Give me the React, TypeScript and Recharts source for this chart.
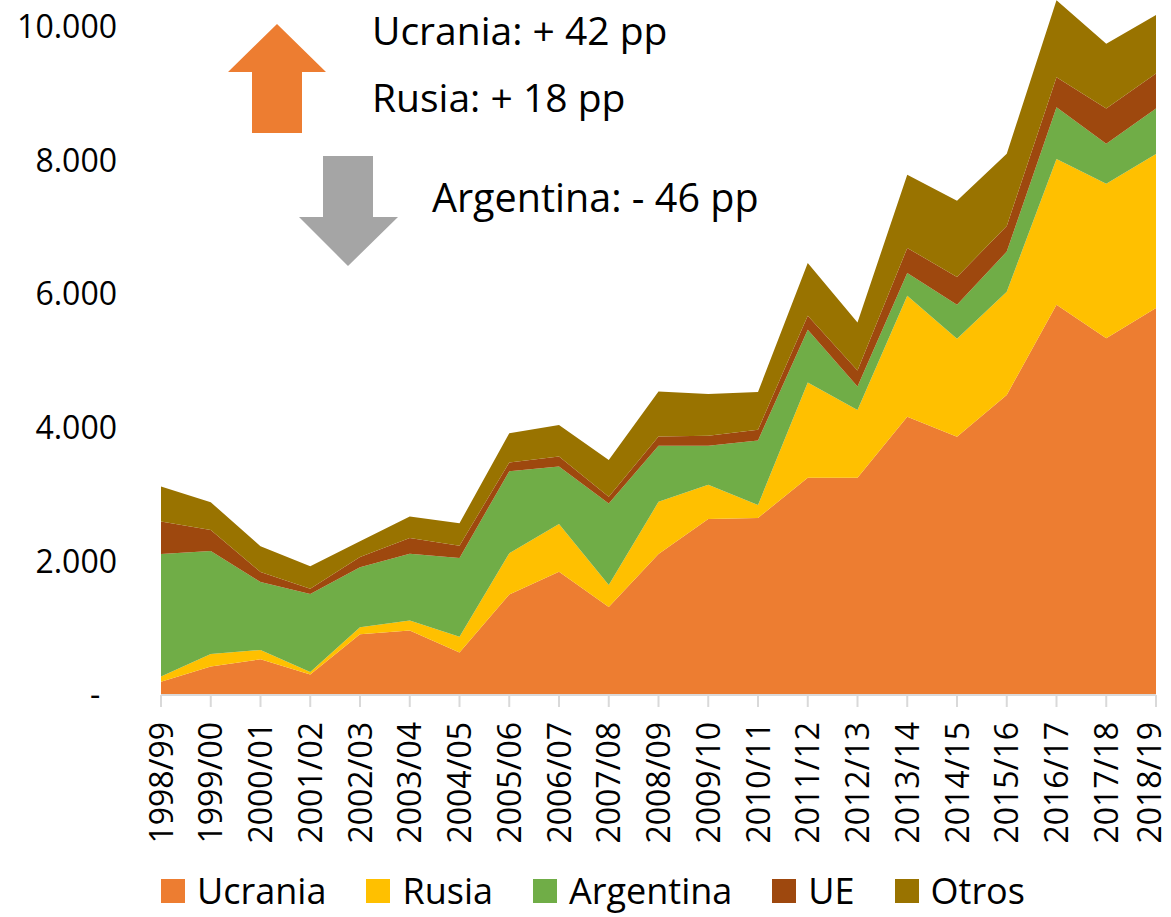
import React from "react";
import { AreaChart, Area, XAxis, YAxis, Legend } from "recharts";

const years = [
  "1998/99", "1999/00", "2000/01", "2001/02", "2002/03", "2003/04", "2004/05",
  "2005/06", "2006/07", "2007/08", "2008/09", "2009/10", "2010/11", "2011/12",
  "2012/13", "2013/14", "2014/15", "2015/16", "2016/17", "2017/18", "2018/19",
];
const ucrania = [200, 425, 535, 305, 910, 965, 635, 1505, 1845, 1315, 2110, 2635, 2650, 3250, 3250, 4165, 3865, 4490, 5840, 5340, 5790];
const rusia = [75, 190, 140, 40, 105, 150, 235, 615, 715, 330, 780, 510, 195, 1425, 1015, 1810, 1465, 1545, 2180, 2310, 2305];
const argentina = [1835, 1540, 1015, 1165, 895, 1000, 1180, 1230, 860, 1220, 840, 585, 965, 790, 350, 340, 510, 600, 775, 600, 680];
const ue = [485, 315, 150, 80, 155, 235, 185, 130, 150, 100, 140, 150, 160, 210, 240, 375, 415, 385, 450, 525, 525];
const otros = [525, 415, 385, 335, 235, 320, 335, 435, 470, 550, 670, 625, 565, 790, 720, 1095, 1140, 1080, 1150, 970, 875];

const yTicks = [0, 2000, 4000, 6000, 8000, 10000];

const series = [
  { key: "Ucrania", color: "#ED7D31" },
  { key: "Rusia", color: "#FFC000" },
  { key: "Argentina", color: "#70AD47" },
  { key: "UE", color: "#9E480E" },
  { key: "Otros", color: "#997300" },
];

const data = years.map((year, i) => ({
  year,
  Ucrania: ucrania[i],
  Rusia: rusia[i],
  Argentina: argentina[i],
  UE: ue[i],
  Otros: otros[i],
}));

const FONT = "'Open Sans', sans-serif";

const fmtY = (v: number) =>
  v === 0 ? "-\u00a0\u00a0" : v.toLocaleString("de-DE");

const XTick = (props: any) => {
  const { x, y, payload, index } = props;
  const isLast = index === years.length - 1;
  return (
    <g transform={`translate(${x},${y})`}>
      <text
        transform="rotate(-90)"
        textAnchor="end"
        dy={isLast ? "0.15em" : "0.36em"}
        fontSize={32}
        fill="#000"
        fontFamily={FONT}
      >
        {payload.value}
      </text>
    </g>
  );
};

const renderLegend = () => (
  <div
    style={{
      display: "flex",
      justifyContent: "center",
      alignItems: "center",
      height: 40,
      paddingLeft: 30,
      boxSizing: "border-box",
      fontFamily: FONT,
      fontSize: 36,
      color: "#000",
    }}
  >
    {series.map((s) => (
      <div key={s.key} style={{ display: "flex", alignItems: "center", margin: "0 20px" }}>
        <div style={{ width: 24, height: 24, background: s.color, marginRight: 12 }} />
        <span style={{ lineHeight: 1, display: "block" }}>{s.key}</span>
      </div>
    ))}
  </div>
);

export default function App() {
  return (
    <div style={{ position: "absolute", left: 0, top: 0, width: 1171, height: 917, background: "#fff" }}>
      <AreaChart
        width={1171}
        height={917}
        data={data}
        margin={{ top: 0, right: 15, bottom: 6, left: 0 }}
      >
        <XAxis
          dataKey="year"
          interval={0}
          height={176}
          tickSize={12}
          tickMargin={15}
          tick={<XTick />}
          axisLine={{ stroke: "#d9d9d9", strokeWidth: 2 }}
          tickLine={{ stroke: "#d9d9d9", strokeWidth: 2 }}
        />
        <YAxis
          width={161}
          domain={[0, 10400]}
          ticks={yTicks}
          tickFormatter={fmtY}
          axisLine={false}
          tickLine={false}
          tickSize={0}
          tickMargin={44}
          tick={{ fontSize: 32, fill: "#000", fontFamily: FONT }}
        />
        {series.map((s) => (
          <Area
            key={s.key}
            type="linear"
            dataKey={s.key}
            stackId="1"
            fill={s.color}
            fillOpacity={1}
            stroke="none"
            isAnimationActive={false}
          />
        ))}
        <Legend verticalAlign="bottom" align="center" content={renderLegend} />
      </AreaChart>
      <svg
        width={1171}
        height={300}
        style={{ position: "absolute", left: 0, top: 0, pointerEvents: "none" }}
      >
        <polygon points="277,24 326,72 302,72 302,133 252,133 252,72 228,72" fill="#ED7D31" />
        <polygon points="323,156 373,156 373,217 398,217 348,266 299,217 323,217" fill="#A5A5A5" />
        <text x={372} y={45} fontSize={39} fontFamily={FONT} fill="#000">Ucrania: + 42 pp</text>
        <text x={372} y={112} fontSize={39} fontFamily={FONT} fill="#000">Rusia: + 18 pp</text>
        <text x={432} y={212} fontSize={39.5} fontFamily={FONT} fill="#000">Argentina: - 46 pp</text>
      </svg>
    </div>
  );
}
